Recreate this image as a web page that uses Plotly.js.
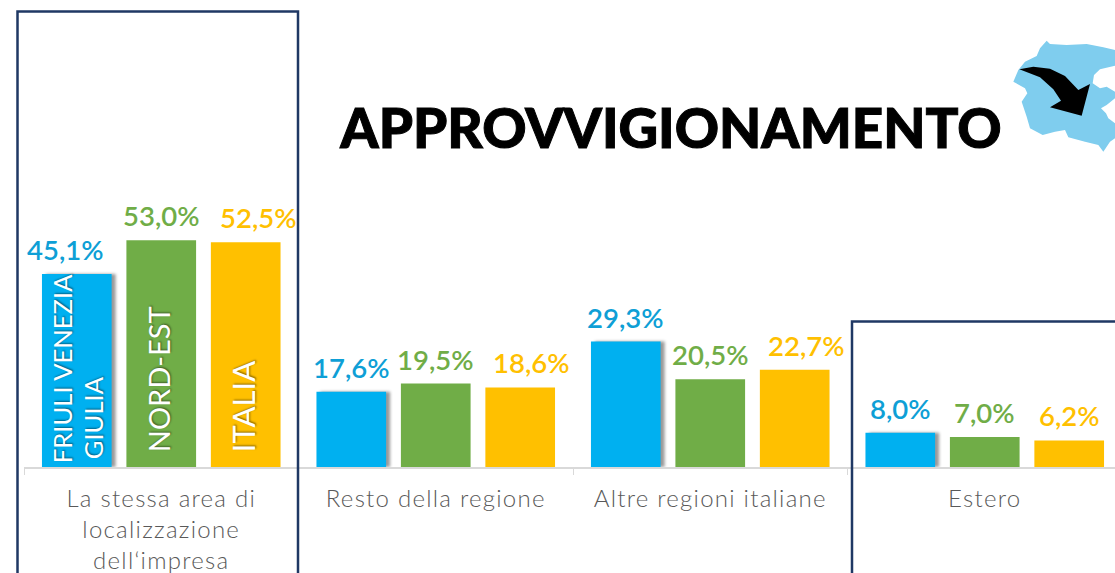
<!DOCTYPE html>
<html><head><meta charset="utf-8">
<script src="https://cdn.plot.ly/plotly-3.0.1.min.js"></script>
<style>
html,body{margin:0;padding:0;background:#fff;overflow:hidden}
#chart{width:1115px;height:573px}
.barlayer .trace:first-child .point path{filter:drop-shadow(4px 0 1.5px rgba(0,0,0,.4))}
.xtick text{letter-spacing:1.25px}
.gtitle{stroke:#000;stroke-width:1px}
</style></head><body><div id="chart"></div>
<script>
const categories=["La stessa area di<br>localizzazione<br>dell\u2018impresa","Resto della regione","Altre regioni italiane","Estero"];
const seriesNames=["FRIULI VENEZIA GIULIA","NORD-EST","ITALIA"];
const fvg=[45.1,17.6,29.3,8.0];
const nordEst=[53.0,19.5,20.5,7.0];
const italia=[52.5,18.6,22.7,6.2];
const barColors=["#00B0F0","#70AD47","#FFC000"];
const labelColors=["#0E9FD6","#70AD47","#FFC000"];
const labelNudge=[[-11,0,0,0],[0,0,0,0],[13,11,12,0]];

const W=1115,H=573,L=24,BASE=467,CAT=274.5,PITCH=84.5,PXPER=4.28;
const px=x=>(x-L)/(W-L), py=y=>(BASE-y)/BASE;
const FONT="Lato, 'Open Sans', sans-serif";
const allSeries=[fvg,nordEst,italia];
const fmt=v=>v.toFixed(1).replace(".",",")+"%";

const traces=allSeries.map((vals,i)=>({type:"bar",name:seriesNames[i],x:categories,y:vals,
  marker:{color:barColors[i],line:{width:0}},hoverinfo:"skip"}));

const annotations=[];
allSeries.forEach((vals,s)=>vals.forEach((v,c)=>annotations.push({
  xref:"x",yref:"y",x:c,y:v,xshift:(s-1)*PITCH+labelNudge[s][c],yshift:6,
  xanchor:"center",yanchor:"bottom",showarrow:false,text:fmt(v),
  font:{family:FONT,size:27.5,weight:600,color:labelColors[s]}})));

const inside=[["FRIULI VENEZIA",-1,-15,2,25.6],["GIULIA",-1,16,6,25.6],["NORD-EST",0,-3,13,29],["ITALIA",1,-3,13,31]];
inside.forEach(([t,s,dx,dy,size])=>annotations.push({
  xref:"x",yref:"y",x:0,y:0,xshift:s*PITCH+dx,yshift:dy,textangle:-90,
  xanchor:"center",yanchor:"bottom",showarrow:false,text:t,
  font:{family:FONT,size:size,color:"#fff",shadow:"1px 1px 2px rgba(0,0,0,.45)"}}));

const z2p=(pts)=>{let d="";pts.forEach((p,i)=>{d+=(i?"L":"M")+px(1000+p[0]/3)+","+py(30+p[1]/3)+" ";});return d+"Z";};
const mapOutline=[[140,32],[150,42],[200,45],[260,42],[310,52],[345,60],[345,107],[300,118],[282,135],[278,160],[300,175],[320,170],[345,185],[345,205],[320,225],[303,235],[318,250],[325,265],[345,280],[345,325],[330,335],[310,365],[295,345],[255,335],[205,322],[195,300],[165,305],[128,315],[90,295],[80,260],[65,215],[82,190],[75,175],[40,155],[55,120],[75,95],[110,78],[120,55]];
const arrowOutline=[[58,118],[100,110],[150,116],[195,138],[235,180],[270,162],[245,257],[150,232],[183,212],[160,178],[120,142]];
const box=(x0,y0,x1,y1)=>({type:"rect",xref:"paper",yref:"paper",x0:px(x0),x1:px(x1),y0:py(y1),y1:py(y0),
  line:{color:"#1F3864",width:2.5},fillcolor:"rgba(0,0,0,0)",layer:"above"});
const shapes=[box(17.5,11.5,298,600),box(852,321.5,1140,600),
  {type:"path",xref:"paper",yref:"paper",path:z2p(mapOutline),fillcolor:"#7FCDEE",line:{width:0},layer:"above"},
  {type:"path",xref:"paper",yref:"paper",path:z2p(arrowOutline),fillcolor:"#000",line:{width:0},layer:"above"}];

Plotly.newPlot("chart",traces,{
  width:W,height:H,showlegend:false,paper_bgcolor:"#fff",plot_bgcolor:"#fff",
  margin:{l:L,r:0,t:0,b:H-BASE,pad:0},
  barmode:"group",bargap:0.077,bargroupgap:0.175,
  title:{text:"APPROVVIGIONAMENTO",x:671/W,xanchor:"center",y:1-128.5/H,yanchor:"middle",
    font:{family:FONT,size:54.7,weight:900,color:"#000"}},
  xaxis:{type:"category",range:[-0.5,-0.5+(W-L)/CAT],tickson:"boundaries",ticks:"outside",ticklen:6,tickcolor:"#D9D9D9",
    showline:true,linecolor:"#D9D9D9",linewidth:2,showgrid:false,zeroline:false,automargin:false,tickangle:0,ticklabelstandoff:9,
    tickfont:{family:FONT,size:24,weight:300,color:"#595959"}},
  yaxis:{visible:false,range:[0,BASE/PXPER],showgrid:false,zeroline:false},
  annotations,shapes
},{displayModeBar:false,staticPlot:true});
</script></body></html>
